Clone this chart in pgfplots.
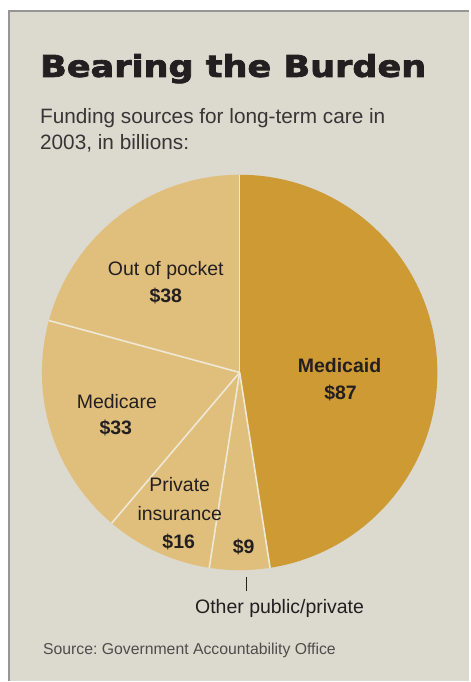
\documentclass[border=0pt]{standalone}
\usepackage{pgfplots}
\pgfplotsset{compat=1.18}
\usepackage{pgfplotstable}
\usepackage{fontspec}
\setmainfont{Liberation Sans}
\newfontfamily\titlefont{DejaVu Sans}[BoldFeatures={FakeStretch=1.17,FakeBold=2.6}]
\definecolor{bgc}{RGB}{220,217,206}
\definecolor{medc}{RGB}{205,154,52}
\definecolor{lightc}{RGB}{224,191,125}
\definecolor{sepc}{RGB}{238,232,214}
\definecolor{brd}{RGB}{150,150,150}
\definecolor{txt}{RGB}{35,31,32}

\pgfplotstableread{
label value col
Medicaid 87 medc
Other 9 lightc
Private 16 lightc
Medicare 33 lightc
OutOfPocket 38 lightc
}\pietable

\begin{document}
\frenchspacing
\begin{tikzpicture}
\begin{axis}[
  x=1pt, y=1pt, scale only axis,
  xmin=0, xmax=470, ymin=0, ymax=682,
  y dir=reverse, hide axis, clip=false,
]
% background
\fill[white] (axis cs:0,0) rectangle (axis cs:470,682);
\fill[bgc] (axis cs:9,11) rectangle (axis cs:470,682);
\draw[brd, line width=2pt] (axis cs:9.5,682) -- (axis cs:9.5,11.5) -- (axis cs:470,11.5);

% pie slices from the table
\pgfplotstablegetrowsof{\pietable}
\pgfmathtruncatemacro\nrows{\pgfplotsretval-1}
\def\total{0}
\pgfplotsforeachungrouped \i in {0,...,\nrows}{%
  \pgfplotstablegetelem{\i}{value}\of\pietable
  \pgfmathsetmacro\total{\total+\pgfplotsretval}%
}
\def\startang{90}
\pgfplotsforeachungrouped \i in {0,...,\nrows}{%
  \pgfplotstablegetelem{\i}{value}\of\pietable
  \pgfmathsetmacro\sweep{\pgfplotsretval/\total*360}%
  \pgfmathsetmacro\endang{\startang-\sweep}%
  \pgfplotstablegetelem{\i}{col}\of\pietable
  \edef\temp{\noexpand\fill[\pgfplotsretval] (axis cs:240,373) -- ++(\startang:198pt) arc[start angle=\startang, end angle=\endang, radius=198pt] -- cycle;}%
  \temp
  \global\let\startang\endang
}
\def\startang{90}
\pgfplotsforeachungrouped \i in {0,...,\nrows}{%
  \pgfplotstablegetelem{\i}{value}\of\pietable
  \pgfmathsetmacro\sweep{\pgfplotsretval/\total*360}%
  \pgfmathsetmacro\endang{\startang-\sweep}%
  \edef\temp{\noexpand\draw[sepc, line width=1.6pt] (axis cs:240,373) -- ++(\startang:198pt);}%
  \temp
  \global\let\startang\endang
}

% titles
\node[anchor=base west, text=txt, inner sep=0pt] at (axis cs:40,77) {\titlefont\bfseries\fontsize{30}{31}\selectfont Bearing the Burden};
\node[anchor=base west, text=txt!90, inner sep=0pt] at (axis cs:40,124) {\fontsize{20.8}{22}\selectfont Funding sources for long-term care in};
\node[anchor=base west, text=txt!90, inner sep=0pt] at (axis cs:40,150) {\fontsize{20.8}{22}\selectfont 2003, in billions:};

% slice labels
\tikzset{lab/.style={anchor=base, text=txt, inner sep=0pt, font=\fontsize{19.5}{21}\selectfont}}
\node[lab] at (axis cs:166,276) {Out of pocket};
\node[lab] at (axis cs:166,303) {\bfseries \$38};
\node[lab] at (axis cs:117,409) {Medicare};
\node[lab] at (axis cs:116,435) {\bfseries \$33};
\node[lab] at (axis cs:180,492) {Private};
\node[lab] at (axis cs:180,521) {insurance};
\node[lab] at (axis cs:179,549) {\bfseries \$16};
\node[lab] at (axis cs:244,554) {\bfseries \$9};
\node[lab] at (axis cs:340,373) {\bfseries Medicaid};
\node[lab] at (axis cs:341,400) {\bfseries \$87};

\draw[txt, line width=1pt] (axis cs:247,578) -- (axis cs:247,592);
\node[lab] at (axis cs:280,614) {Other public/private};

\node[anchor=base west, text=txt!80, inner sep=0pt] at (axis cs:43,655) {\fontsize{15.8}{17}\selectfont Source: Government Accountability Office};
\end{axis}
\end{tikzpicture}
\end{document}
